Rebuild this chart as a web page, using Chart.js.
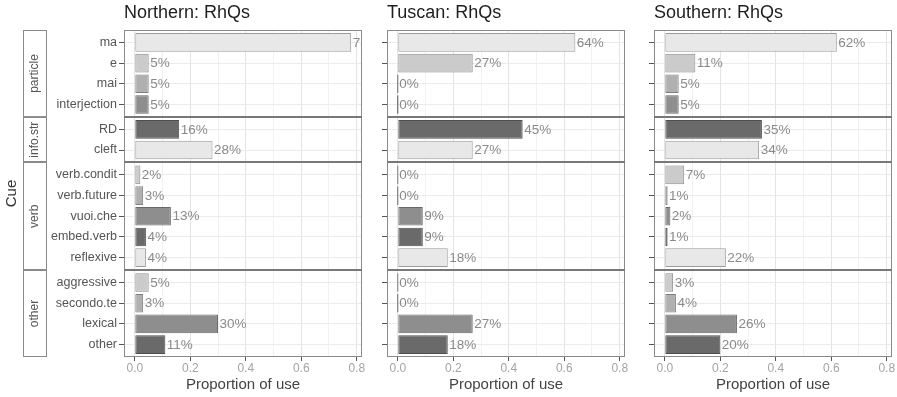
<!DOCTYPE html>
<html>
<head>
<meta charset="utf-8">
<script src="https://cdn.jsdelivr.net/npm/chart.js@4.4.1/dist/chart.umd.min.js"></script>
<style>
  html, body { margin: 0; padding: 0; background: #ffffff; }
  #wrap { position: relative; width: 897px; height: 397px; overflow: hidden; background: #ffffff; }
  #wrap canvas { position: absolute; top: 0; }
</style>
</head>
<body>
<div id="wrap">
  <canvas id="col0" width="372" height="397" style="left:0px;width:372px;height:397px"></canvas>
  <canvas id="col1" width="278" height="397" style="left:362px;width:278px;height:397px"></canvas>
  <canvas id="col2" width="257" height="397" style="left:640px;width:257px;height:397px"></canvas>
</div>
<script>
// ---- data ---------------------------------------------------------------
const regions = ['Northern: RhQs', 'Tuscan: RhQs', 'Southern: RhQs'];
const groups = ['particle', 'info.str', 'verb', 'other'];
const particleCues = ['ma', 'e', 'mai', 'interjection'];
const infoCues = ['RD', 'cleft'];
const verbCues = ['verb.condit', 'verb.future', 'vuoi.che', 'embed.verb', 'reflexive'];
const otherCues = ['aggressive', 'secondo.te', 'lexical', 'other'];

// proportion of use, in cue order (particle, info.str, verb, other)
const northern = [0.78, 0.05, 0.05, 0.05, 0.16, 0.28, 0.02, 0.03, 0.13, 0.04, 0.04, 0.05, 0.03, 0.30, 0.11];
const tuscan   = [0.64, 0.27, 0.00, 0.00, 0.45, 0.27, 0.00, 0.00, 0.09, 0.09, 0.18, 0.00, 0.00, 0.27, 0.18];
const southern = [0.62, 0.11, 0.05, 0.05, 0.35, 0.34, 0.07, 0.01, 0.02, 0.01, 0.22, 0.03, 0.04, 0.26, 0.20];

const xTicks = [0, 0.2, 0.4, 0.6, 0.8];
const xTitle = 'Proportion of use';
const yTitle = 'Cue';

// ---- styling ------------------------------------------------------------
const FONT = "'Liberation Sans', Arial, Helvetica, sans-serif";
const fills = ['#e8e8e8', '#cbcbcb', '#b0b0b0', '#8e8e8e', '#6a6a6a'];
const edges = ['#9a9a9a', '#8c8c8c', '#7e7e7e', '#686868', '#4e4e4e'];
Chart.defaults.font.family = FONT;

// ---- facet layout on the discrete axis (0.6 units of padding per facet) ---
const cueGroups = [particleCues, infoCues, verbCues, otherCues];
const cueNames = cueGroups.flat();
const rowPos = [];
const groupBounds = [];
let cursor = 0;
cueGroups.forEach(list => {
  const start = cursor;
  list.forEach((_, k) => rowPos.push(start + 0.6 + k));
  cursor = start + list.length + 0.2;
  groupBounds.push([start, cursor]);
});
const yMax = cursor;

// x breaks: majors from xTicks, minors halfway between them
const xAll = xTicks.flatMap((v, i) => i ? [(xTicks[i - 1] + v) / 2, v] : [v]);
const isMajor = v => xTicks.some(t => Math.abs(t - v) < 1e-9);
const xMin = -0.039, xMax = 0.819;

const facetDecor = {
  id: 'facetDecor',
  afterDatasetsDraw(chart) {
    const { ctx, chartArea: a, scales: { x } } = chart;
    const ds = chart.data.datasets[0];
    const bars = chart.getDatasetMeta(0).data;
    ctx.save();
    ctx.beginPath();
    ctx.rect(a.left, a.top, a.right - a.left, a.bottom - a.top);
    ctx.clip();
    ctx.font = '13.5px ' + FONT;
    ctx.fillStyle = '#8a8a8a';
    ctx.textAlign = 'left';
    ctx.textBaseline = 'middle';
    ds.data.forEach((p, i) => {
      ctx.fillText(Math.round(p.x * 100) + '%', x.getPixelForValue(p.x) + 1.5, bars[i].y + 0.5);
    });
    ctx.restore();
  },
  afterDraw(chart, args, opts) {
    const { ctx, chartArea: a, scales: { y } } = chart;
    ctx.save();
    // panel frame and facet separators
    ctx.strokeStyle = '#8a8a8a';
    ctx.lineWidth = 1;
    ctx.strokeRect(a.left + 0.5, a.top + 0.5, a.right - a.left - 1, a.bottom - a.top - 1);
    ctx.strokeStyle = '#787878';
    ctx.lineWidth = 2;
    groupBounds.slice(1).forEach(([start]) => {
      const py = Math.round(y.getPixelForValue(start));
      ctx.beginPath();
      ctx.moveTo(a.left, py);
      ctx.lineTo(a.right, py);
      ctx.stroke();
    });
    // column title
    ctx.fillStyle = '#1e1e1e';
    ctx.font = '18px ' + FONT;
    ctx.textAlign = 'left';
    ctx.textBaseline = 'alphabetic';
    ctx.fillText(opts.title, a.left, a.top - 12.5);

    if (opts.strips) {
      const sx0 = 23, sx1 = 47;
      groupBounds.forEach(([s, e], g) => {
        const t = y.getPixelForValue(s), b = y.getPixelForValue(e);
        ctx.fillStyle = '#ffffff';
        ctx.fillRect(sx0, t, sx1 - sx0, b - t);
        ctx.strokeStyle = '#8a8a8a';
        ctx.lineWidth = 1;
        ctx.strokeRect(sx0 + 0.5, Math.round(t) + 0.5, sx1 - sx0 - 1, Math.round(b) - Math.round(t) - 1);
        ctx.save();
        ctx.translate((sx0 + sx1) / 2, (t + b) / 2);
        ctx.rotate(-Math.PI / 2);
        ctx.fillStyle = '#555555';
        ctx.font = '12px ' + FONT;
        ctx.textAlign = 'center';
        ctx.textBaseline = 'middle';
        ctx.fillText(groups[g], 0, 0);
        ctx.restore();
      });
      ctx.save();
      ctx.translate(12, (a.top + a.bottom) / 2);
      ctx.rotate(-Math.PI / 2);
      ctx.fillStyle = '#333333';
      ctx.font = '15px ' + FONT;
      ctx.textAlign = 'center';
      ctx.textBaseline = 'middle';
      ctx.fillText(yTitle, 0, 0);
      ctx.restore();
    }
    ctx.restore();
  }
};

function facetColumn(canvasId, col, values, axisWidth, padRight) {
  const first = col === 0;
  return new Chart(document.getElementById(canvasId), {
    type: 'bar',
    data: {
      datasets: [{
        data: values.map((v, i) => ({ x: v, y: rowPos[i] })),
        backgroundColor: values.map((_, i) => fills[i % fills.length]),
        borderColor: values.map((_, i) => edges[i % edges.length]),
        borderWidth: 1,
        borderSkipped: false,
        minBarLength: 1.5,
        categoryPercentage: 1,
        barPercentage: 0.9
      }]
    },
    options: {
      indexAxis: 'y',
      responsive: false,
      animation: false,
      devicePixelRatio: 1,
      layout: { padding: { top: 30, right: padRight, left: 0, bottom: 0 } },
      plugins: {
        legend: { display: false },
        tooltip: { enabled: false },
        facetDecor: { title: regions[col], strips: first }
      },
      scales: {
        x: {
          type: 'linear',
          position: 'bottom',
          min: xMin,
          max: xMax,
          afterBuildTicks: s => { s.ticks = xAll.map(v => ({ value: v })); },
          afterFit: s => { s.height = 40; },
          border: { display: false },
          grid: {
            color: c => (c.tick && isMajor(c.tick.value)) ? '#e4e4e4' : '#f1f1f1',
            tickColor: c => (c.tick && isMajor(c.tick.value)) ? '#555555' : 'rgba(0,0,0,0)',
            tickLength: 4,
            drawTicks: true
          },
          ticks: {
            autoSkip: false,
            maxRotation: 0,
            padding: 0,
            color: '#a3a3a3',
            font: { size: 12 },
            callback: v => isMajor(v) ? v.toFixed(1) : ''
          },
          title: {
            display: true,
            text: xTitle,
            color: '#444444',
            font: { size: 15 },
            padding: { top: 0, bottom: 3 }
          }
        },
        y: {
          type: 'linear',
          position: 'left',
          reverse: true,
          offset: false,
          min: 0,
          max: yMax,
          afterBuildTicks: s => { s.ticks = rowPos.map(v => ({ value: v })); },
          afterFit: s => { s.width = axisWidth; },
          border: { display: false },
          grid: {
            offset: false,
            color: '#ebebeb',
            tickColor: '#555555',
            tickLength: 5,
            drawTicks: true
          },
          ticks: {
            display: first,
            autoSkip: false,
            padding: 2,
            color: '#555555',
            font: { size: 12.5 },
            callback: (v, i) => cueNames[i]
          }
        }
      }
    },
    plugins: [facetDecor]
  });
}

facetColumn('col0', 0, northern, 124, 10);
facetColumn('col1', 1, tuscan, 25, 15);
facetColumn('col2', 2, southern, 14, 5);
</script>
</body>
</html>
